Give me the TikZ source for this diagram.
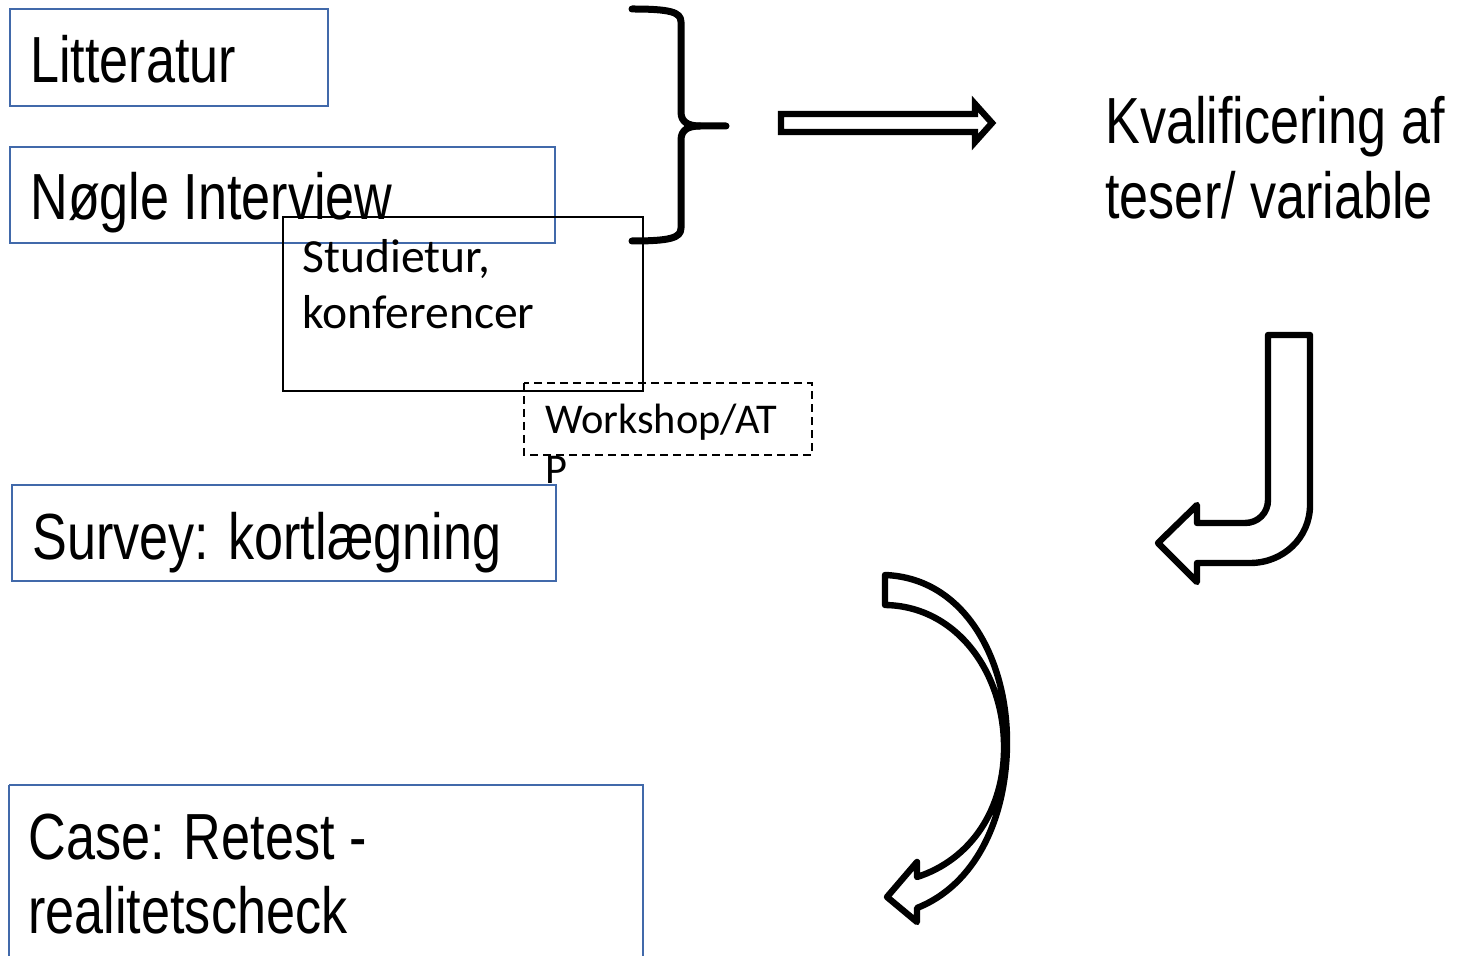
\documentclass[tikz,border=0pt]{standalone}
\usepackage{fontspec}
\setmainfont{Liberation Sans}[FakeStretch=0.8]
\newfontfamily\calfont{Carlito}
\definecolor{boxblue}{RGB}{65,105,170}
\begin{document}
\begin{tikzpicture}[x=0.5pt,y=-0.5pt,
  bluebox/.style={draw=boxblue,line width=1pt},
  blackbox/.style={draw=black,line width=0.9pt},
  dashbox/.style={draw=black,line width=0.9pt,dash pattern=on 4pt off 2.5pt},
  big/.style={anchor=base west,inner sep=0pt,font=\fontsize{32.6}{37.5}\selectfont},
  small/.style={anchor=base west,inner sep=0pt,font=\calfont\fontsize{23.8}{28}\selectfont},
  smalltwo/.style={anchor=base west,inner sep=0pt,font=\calfont\fontsize{21.2}{25}\selectfont},
  bracestyle/.style={line width=3.5pt,line cap=round,line join=round},
  blockarrow/.style={draw=black,fill=white,line width=3.2pt,line join=round}]
\useasboundingbox (0,0) rectangle (1460,956);
% boxes
\draw[bluebox] (10,9) rectangle (328,106);
\draw[bluebox] (10,147) rectangle (555,243);
\draw[blackbox] (283,217) rectangle (643,391);
\draw[dashbox] (524,383) rectangle (812,455);
\draw[bluebox] (12,485) rectangle (556,581);
\draw[bluebox] (9,785) -- (643,785) -- (643,960);
\draw[bluebox] (9,785) -- (9,960);
% texts
\node[big] (lit) at (30,83) {Litteratur};
\node[big] (noegle) at (30,220) {Nøgle Interview};
\node[small] (stud1) at (302,273) {Studietur,};
\node[small] (stud2) at (302,329) {konferencer};
\node[smalltwo] (work1) at (545,434) {Workshop/AT};
\node[smalltwo] (work2) at (545,483) {P};
\node[big] (survey) at (32,559) {Survey: kortlægning};
\node[big] (case1) at (28,859) {Case: Retest -};
\node[big] (case2) at (28,933) {realitetscheck};
\node[big] (kval1) at (1105,144) {Kvalificering af};
\node[big] (kval2) at (1105,219) {teser/ variable};
% brace
\draw[bracestyle] (632,9) .. controls (670,9) and (681,12) .. (681,22) -- (681,112)
  .. controls (681,122) and (688,126) .. (700,126) -- (726,126);
\draw[bracestyle] (700,126) .. controls (688,126) and (681,130) .. (681,140) -- (681,228)
  .. controls (681,238) and (670,241) .. (632,241);
% right block arrow
\draw[blockarrow,line join=miter] (781,114) -- (975,114) -- (975,104) -- (992,123) -- (975,142) -- (975,132) -- (781,132) -- cycle;
% J arrow
\draw[blockarrow] (1268,335) -- (1310,335) -- (1310,505)
  .. controls (1310,538) and (1283,563) .. (1250,563) -- (1197,563) -- (1197,582) -- (1158,543) -- (1197,505) -- (1197,523) -- (1245,523)
  .. controls (1258,523) and (1268,513) .. (1268,500) -- cycle;
% curved arrow
\draw[blockarrow] (885,575) .. controls (965,578) and (1008,660) .. (1007,745)
  .. controls (1006,820) and (975,885) .. (917,908) -- (917,922) -- (887,897) -- (917,862) -- (917,877)
  .. controls (970,860) and (1005,810) .. (1004,745)
  .. controls (1003,670) and (955,606) .. (885,605) -- cycle;
\end{tikzpicture}
\end{document}
